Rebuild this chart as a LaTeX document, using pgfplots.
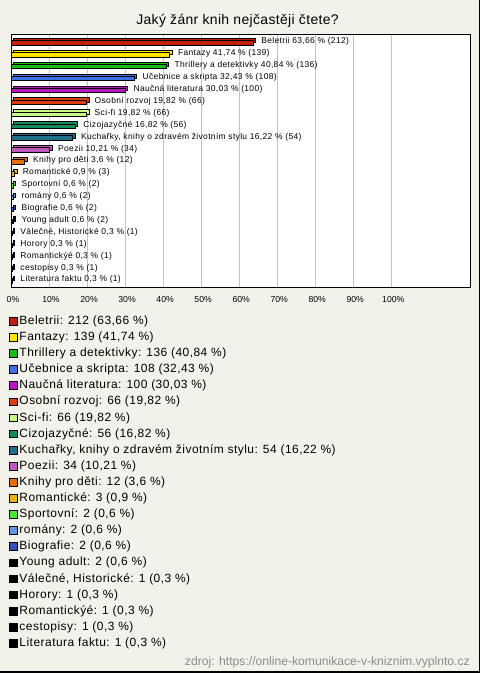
\documentclass[border=0pt]{standalone}
\usepackage{pgfplots}
\pgfplotsset{compat=1.18}
\usepackage{fontspec}
\setmainfont{Liberation Sans}
\newfontfamily\legfont[LetterSpace=4]{Liberation Sans}
\newfontfamily\labfont[LetterSpace=4]{Liberation Sans}
\newfontfamily\titfont[LetterSpace=2.5]{Liberation Sans}
\definecolor{bgc}{RGB}{243,242,234}
\definecolor{c1}{RGB}{192,32,16}
\definecolor{c2}{RGB}{255,230,0}
\definecolor{c3}{RGB}{20,190,20}
\definecolor{c4}{RGB}{60,110,230}
\definecolor{c5}{RGB}{190,20,200}
\definecolor{c6}{RGB}{222,60,10}
\definecolor{c7}{RGB}{200,250,130}
\definecolor{c8}{RGB}{20,140,90}
\definecolor{c9}{RGB}{30,110,140}
\definecolor{c10}{RGB}{190,90,190}
\definecolor{c11}{RGB}{230,110,10}
\definecolor{c12}{RGB}{230,180,10}
\definecolor{c13}{RGB}{70,230,50}
\definecolor{c14}{RGB}{100,150,230}
\definecolor{c15}{RGB}{50,80,180}
\definecolor{c16}{RGB}{0,0,0}
\definecolor{foot}{RGB}{140,140,140}
\pgfplotsset{
  backbar/.style={xbar, bar width=4.5bp, bar shift=0pt, fill=#1, draw=black, line width=0.7bp, xshift=2.5bp, yshift=2.3bp, forget plot},
  frontbar/.style={xbar, bar width=4.5bp, bar shift=0pt, fill=#1, draw=black, line width=0.7bp,
    legend image code/.code={\draw[##1, line width=0.6bp] (0bp,-3.85bp) rectangle (7.7bp,3.85bp);},
    every node near coord/.append style={anchor=west, font=\labfont\fontsize{8.5}{9.5}\selectfont, inner sep=0pt, xshift=8bp, yshift=1.1bp, text=black}},
}
\begin{document}
\begin{tikzpicture}[x=1bp,y=1bp]
\path[use as bounding box] (0,0) rectangle (480,673);
\fill[bgc] (0,0) rectangle (480,673);
\draw[black, line width=1.5bp] (479.25,0) -- (479.25,673);
\draw[black, line width=1.5bp] (0,0.75) -- (480,0.75);
\node[anchor=base, inner sep=0pt, font=\titfont\fontsize{14}{16}\selectfont] at (237.5,648) {Jaký žánr knih nejčastěji čtete?};
\node[anchor=base east, inner sep=0pt, text=foot, font=\fontsize{12.2}{14}\selectfont] at (470,7.5) {zdroj: https://online-komunikace-v-kniznim.vyplnto.cz};
\begin{axis}[
  at={(11bp,385bp)}, anchor=south west,
  width=459bp, height=253bp, scale only axis,
  xmin=0, xmax=120.7, ymin=-0.655, ymax=20.6, y dir=reverse,
  axis background/.style={fill=white},
  axis line style={black, line width=1bp},
  xtick={0,10,...,100}, ytick=\empty,
  major tick length=0pt,
  xmajorgrids, grid style={draw={rgb,255:red,195;green,195;blue,195}, line width=0.8bp},
  xticklabel={\pgfmathprintnumber{\tick}\%},
  xticklabel style={font=\fontsize{8.7}{10}\selectfont, yshift=-5bp, xshift=2bp},
  /pgf/number format/assume math mode=true,
  legend cell align=left,
  legend style={at={(axis description cs:0,0)}, anchor=north west, xshift=-2bp, yshift=-27.6bp,
    draw=none, fill=none, inner sep=0pt, row sep=5.3bp,
    font=\legfont\fontsize{12}{13.5}\selectfont,
    nodes={inner ysep=0pt, inner xsep=2bp, text height=8.6bp, text depth=2.2bp}},
  clip=false,
]
\addplot[backbar=c1] coordinates {(63.66,0)};
\addplot[frontbar=c1, nodes near coords={Beletrii 63,66 \% (212)}] coordinates {(63.66,0)};
\addlegendentry{Beletrii: 212 (63,66 \%)}
\addplot[backbar=c2] coordinates {(41.74,1)};
\addplot[frontbar=c2, nodes near coords={Fantazy 41,74 \% (139)}] coordinates {(41.74,1)};
\addlegendentry{Fantazy: 139 (41,74 \%)}
\addplot[backbar=c3] coordinates {(40.84,2)};
\addplot[frontbar=c3, nodes near coords={Thrillery a detektivky 40,84 \% (136)}] coordinates {(40.84,2)};
\addlegendentry{Thrillery a detektivky: 136 (40,84 \%)}
\addplot[backbar=c4] coordinates {(32.43,3)};
\addplot[frontbar=c4, nodes near coords={Učebnice a skripta 32,43 \% (108)}] coordinates {(32.43,3)};
\addlegendentry{Učebnice a skripta: 108 (32,43 \%)}
\addplot[backbar=c5] coordinates {(30.03,4)};
\addplot[frontbar=c5, nodes near coords={Naučná literatura 30,03 \% (100)}] coordinates {(30.03,4)};
\addlegendentry{Naučná literatura: 100 (30,03 \%)}
\addplot[backbar=c6] coordinates {(19.82,5)};
\addplot[frontbar=c6, nodes near coords={Osobní rozvoj 19,82 \% (66)}] coordinates {(19.82,5)};
\addlegendentry{Osobní rozvoj: 66 (19,82 \%)}
\addplot[backbar=c7] coordinates {(19.82,6)};
\addplot[frontbar=c7, nodes near coords={Sci-fi 19,82 \% (66)}] coordinates {(19.82,6)};
\addlegendentry{Sci-fi: 66 (19,82 \%)}
\addplot[backbar=c8] coordinates {(16.82,7)};
\addplot[frontbar=c8, nodes near coords={Cizojazyčné 16,82 \% (56)}] coordinates {(16.82,7)};
\addlegendentry{Cizojazyčné: 56 (16,82 \%)}
\addplot[backbar=c9] coordinates {(16.22,8)};
\addplot[frontbar=c9, nodes near coords={Kuchařky, knihy o zdravém životním stylu 16,22 \% (54)}] coordinates {(16.22,8)};
\addlegendentry{Kuchařky, knihy o zdravém životním stylu: 54 (16,22 \%)}
\addplot[backbar=c10] coordinates {(10.21,9)};
\addplot[frontbar=c10, nodes near coords={Poezii 10,21 \% (34)}] coordinates {(10.21,9)};
\addlegendentry{Poezii: 34 (10,21 \%)}
\addplot[backbar=c11] coordinates {(3.6,10)};
\addplot[frontbar=c11, nodes near coords={Knihy pro děti 3,6 \% (12)}] coordinates {(3.6,10)};
\addlegendentry{Knihy pro děti: 12 (3,6 \%)}
\addplot[backbar=c12] coordinates {(0.9,11)};
\addplot[frontbar=c12, nodes near coords={Romantické 0,9 \% (3)}] coordinates {(0.9,11)};
\addlegendentry{Romantické: 3 (0,9 \%)}
\addplot[backbar=c13] coordinates {(0.6,12)};
\addplot[frontbar=c13, nodes near coords={Sportovní 0,6 \% (2)}] coordinates {(0.6,12)};
\addlegendentry{Sportovní: 2 (0,6 \%)}
\addplot[backbar=c14] coordinates {(0.6,13)};
\addplot[frontbar=c14, nodes near coords={romány 0,6 \% (2)}] coordinates {(0.6,13)};
\addlegendentry{romány: 2 (0,6 \%)}
\addplot[backbar=c15] coordinates {(0.6,14)};
\addplot[frontbar=c15, nodes near coords={Biografie 0,6 \% (2)}] coordinates {(0.6,14)};
\addlegendentry{Biografie: 2 (0,6 \%)}
\addplot[backbar=c16] coordinates {(0.6,15)};
\addplot[frontbar=c16, nodes near coords={Young adult 0,6 \% (2)}] coordinates {(0.6,15)};
\addlegendentry{Young adult: 2 (0,6 \%)}
\addplot[backbar=c16] coordinates {(0.3,16)};
\addplot[frontbar=c16, nodes near coords={Válečné, Historické 0,3 \% (1)}] coordinates {(0.3,16)};
\addlegendentry{Válečné, Historické: 1 (0,3 \%)}
\addplot[backbar=c16] coordinates {(0.3,17)};
\addplot[frontbar=c16, nodes near coords={Horory 0,3 \% (1)}] coordinates {(0.3,17)};
\addlegendentry{Horory: 1 (0,3 \%)}
\addplot[backbar=c16] coordinates {(0.3,18)};
\addplot[frontbar=c16, nodes near coords={Romantickýé 0,3 \% (1)}] coordinates {(0.3,18)};
\addlegendentry{Romantickýé: 1 (0,3 \%)}
\addplot[backbar=c16] coordinates {(0.3,19)};
\addplot[frontbar=c16, nodes near coords={cestopisy 0,3 \% (1)}] coordinates {(0.3,19)};
\addlegendentry{cestopisy: 1 (0,3 \%)}
\addplot[backbar=c16] coordinates {(0.3,20)};
\addplot[frontbar=c16, nodes near coords={Literatura faktu 0,3 \% (1)}] coordinates {(0.3,20)};
\addlegendentry{Literatura faktu: 1 (0,3 \%)}
\end{axis}
\end{tikzpicture}
\end{document}
